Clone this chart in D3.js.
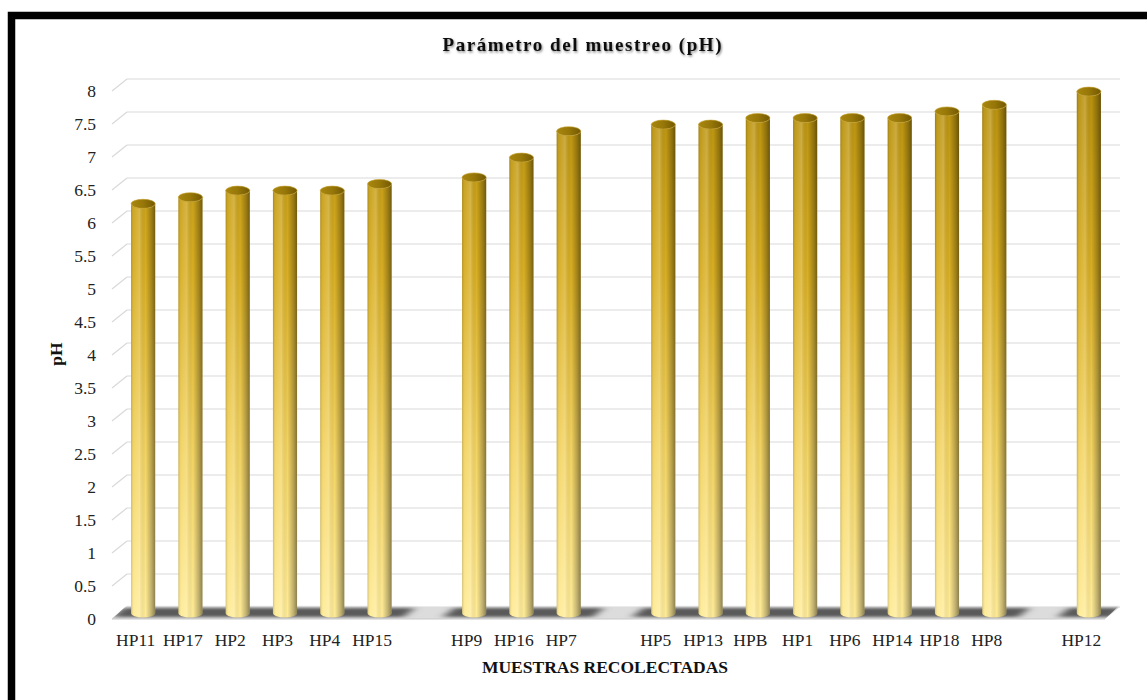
<!DOCTYPE html>
<html>
<head>
<meta charset="utf-8">
<script src="https://cdn.jsdelivr.net/npm/d3@7"></script>
<style>
  body { margin: 0; background: #fff; }
  svg { display: block; }
</style>
</head>
<body>
<div id="chart"></div>
<script>
// muestras (los "" son huecos entre grupos)
const categories = ["HP11", "HP17", "HP2", "HP3", "HP4", "HP15", "",
                    "HP9", "HP16", "HP7", "",
                    "HP5", "HP13", "HPB", "HP1", "HP6", "HP14", "HP18", "HP8", "",
                    "HP12"];
const phValues = [6.2, 6.3, 6.4, 6.4, 6.4, 6.5, null,
                  6.6, 6.9, 7.3, null,
                  7.4, 7.4, 7.5, 7.5, 7.5, 7.5, 7.6, 7.7, null,
                  7.9];
const yTicks = [0, 0.5, 1, 1.5, 2, 2.5, 3, 3.5, 4, 4.5, 5, 5.5, 6, 6.5, 7, 7.5, 8];

const width = 1147, height = 700;
const depth = { dx: 15, dy: 12 }; // front -> back offset of the 3D floor

const svg = d3.select("#chart").append("svg")
    .attr("width", width)
    .attr("height", height);

const defs = svg.append("defs");

// body colour depends on absolute height (pale at the floor, dark gold at top)
const vGrad = defs.append("linearGradient")
    .attr("id", "bodyV")
    .attr("gradientUnits", "userSpaceOnUse")
    .attr("x1", 0).attr("x2", 0).attr("y1", 85).attr("y2", 613);
[[0, "#b68f0c"], [0.35, "#d8ae22"], [0.7, "#f3d463"], [1, "#ffeb96"]]
    .forEach(s => vGrad.append("stop").attr("offset", s[0]).attr("stop-color", s[1]));

// round shading across the cylinder
const hGrad = defs.append("linearGradient")
    .attr("id", "bodyH")
    .attr("x1", 0).attr("x2", 1).attr("y1", 0).attr("y2", 0);
[[0, "#000", 0.18], [0.12, "#fff", 0.05], [0.35, "#fff", 0.2], [0.6, "#000", 0.0],
 [0.85, "#000", 0.25], [1, "#000", 0.45]]
    .forEach(s => hGrad.append("stop").attr("offset", s[0])
        .attr("stop-color", s[1]).attr("stop-opacity", s[2]));

const topGrad = defs.append("linearGradient")
    .attr("id", "topG")
    .attr("x1", 0).attr("x2", 1).attr("y1", 0).attr("y2", 0);
[[0, "#a8860f"], [0.5, "#977708"], [1, "#735904"]]
    .forEach(s => topGrad.append("stop").attr("offset", s[0]).attr("stop-color", s[1]));

const blur = defs.append("filter").attr("id", "blur")
    .attr("x", "-20%").attr("y", "-100%").attr("width", "140%").attr("height", "300%");
blur.append("feGaussianBlur").attr("stdDeviation", "5 1.5");

const shadow = defs.append("filter").attr("id", "tshadow")
    .attr("x", "-5%").attr("y", "-30%").attr("width", "110%").attr("height", "160%");
shadow.append("feDropShadow").attr("dx", 1).attr("dy", 1.5)
    .attr("stdDeviation", 1).attr("flood-color", "#000").attr("flood-opacity", 0.45);

// frame
svg.append("rect")
    .attr("x", 11.5).attr("y", 15.5)
    .attr("width", width + 20).attr("height", height + 20)
    .attr("fill", "none")
    .attr("stroke", "#000")
    .attr("stroke-width", 7.5);

// scales (back wall)
const x = d3.scaleBand()
    .domain(d3.range(categories.length))
    .range([127, 1120]);

const y = d3.scaleLinear()
    .domain([0, 8])
    .range([607, 79]);

// gridlines on the back wall + diagonals on the side
const grid = svg.append("g");
yTicks.forEach(t => {
    grid.append("line")
        .attr("x1", x.range()[0]).attr("x2", x.range()[1])
        .attr("y1", y(t)).attr("y2", y(t))
        .attr("stroke", "#d9d9d9").attr("stroke-width", 1.2);
    grid.append("line")
        .attr("x1", x.range()[0] - depth.dx).attr("y1", y(t) + depth.dy)
        .attr("x2", x.range()[0]).attr("y2", y(t))
        .attr("stroke", "#d9d9d9").attr("stroke-width", 1.2);
});

// floor
const x0 = x.range()[0], x1 = x.range()[1], y0 = y(0);
svg.append("path")
    .attr("d", `M${x0},${y0}L${x1},${y0}L${x1 - depth.dx},${y0 + depth.dy}L${x0 - depth.dx},${y0 + depth.dy}Z`)
    .attr("fill", "#dcdcdc");

const floorClip = defs.append("clipPath").attr("id", "floorClip");
floorClip.append("path")
    .attr("d", `M${x0},${y0 - 2}L${x1},${y0 - 2}L${x1 - depth.dx},${y0 + depth.dy}L${x0 - depth.dx},${y0 + depth.dy}Z`);

const floorShade = svg.append("g").attr("clip-path", "url(#floorClip)")
    .append("g").attr("filter", "url(#blur)");
categories.forEach((c, i) => {
    if (phValues[i] == null) return;
    const bx = x(i) - 4, bw = x.bandwidth() + 8;
    floorShade.append("path")
        .attr("d", `M${bx},${y0 + 1}L${bx + bw},${y0 + 1}L${bx + bw - depth.dx + 4},${y0 + depth.dy - 2}L${bx - depth.dx + 4},${y0 + depth.dy - 2}Z`)
        .attr("fill", "#5a5a5a");
});
svg.append("line")
    .attr("x1", x0 - depth.dx).attr("x2", x1 - depth.dx)
    .attr("y1", y0 + depth.dy).attr("y2", y0 + depth.dy)
    .attr("stroke", "#c8c8c8").attr("stroke-width", 1);

// cylinders, standing in the middle of the floor depth
const r = x.bandwidth() * 0.255;
const ry = 4.5;
const mid = { dx: -depth.dx / 2, dy: depth.dy / 2 };

const bars = svg.append("g")
    .selectAll("g")
    .data(categories.map((c, i) => ({ name: c, value: phValues[i], i })).filter(d => d.value != null))
    .join("g");

function bodyPath(d) {
    const cx = x(d.i) + x.bandwidth() / 2 + mid.dx;
    const yb = y(0) + mid.dy, yt = y(d.value) + mid.dy;
    return `M${cx - r},${yt}L${cx - r},${yb}A${r},${ry} 0 0 0 ${cx + r},${yb}L${cx + r},${yt}A${r},${ry} 0 0 1 ${cx - r},${yt}Z`;
}

bars.append("path").attr("d", bodyPath).attr("fill", "url(#bodyV)");
bars.append("path").attr("d", bodyPath).attr("fill", "url(#bodyH)");
bars.append("ellipse")
    .attr("cx", d => x(d.i) + x.bandwidth() / 2 + mid.dx)
    .attr("cy", d => y(d.value) + mid.dy)
    .attr("rx", r).attr("ry", ry)
    .attr("fill", "url(#topG)")
    .attr("stroke", "#c4a02a").attr("stroke-width", 0.6);

// y axis labels
svg.append("g")
    .selectAll("text")
    .data(yTicks)
    .join("text")
    .attr("x", 96)
    .attr("y", d => y(d) + depth.dy)
    .attr("dy", "0.35em")
    .attr("text-anchor", "end")
    .style("font-family", "'Liberation Serif', 'Times New Roman', serif")
    .style("font-size", "17.5px")
    .style("fill", "#222")
    .text(d => d);

// x axis labels (front edge)
svg.append("g")
    .selectAll("text")
    .data(categories.map((c, i) => ({ name: c, i })))
    .join("text")
    .attr("x", d => x(d.i) + x.bandwidth() / 2 - depth.dx)
    .attr("y", 646)
    .attr("text-anchor", "middle")
    .style("font-family", "'Liberation Serif', 'Times New Roman', serif")
    .style("font-size", "17.5px")
    .style("fill", "#222")
    .text(d => d.name);

// titles
svg.append("text")
    .attr("x", 582).attr("y", 51)
    .attr("text-anchor", "middle")
    .attr("textLength", 279).attr("lengthAdjust", "spacing")
    .attr("filter", "url(#tshadow)")
    .style("font-family", "'Liberation Serif', 'Times New Roman', serif")
    .style("font-size", "19px")
    .style("font-weight", "bold")
    .style("fill", "#111")
    .text("Parámetro del muestreo (pH)");

svg.append("text")
    .attr("transform", "translate(62,354) rotate(-90)")
    .attr("text-anchor", "middle")
    .style("font-family", "'Liberation Serif', 'Times New Roman', serif")
    .style("font-size", "17.5px")
    .style("font-weight", "bold")
    .style("fill", "#111")
    .text("pH");

svg.append("text")
    .attr("x", 605).attr("y", 673)
    .attr("text-anchor", "middle")
    .style("font-family", "'Liberation Serif', 'Times New Roman', serif")
    .style("font-size", "17.5px")
    .style("font-weight", "bold")
    .style("fill", "#111")
    .text("MUESTRAS RECOLECTADAS");
</script>
</body>
</html>
